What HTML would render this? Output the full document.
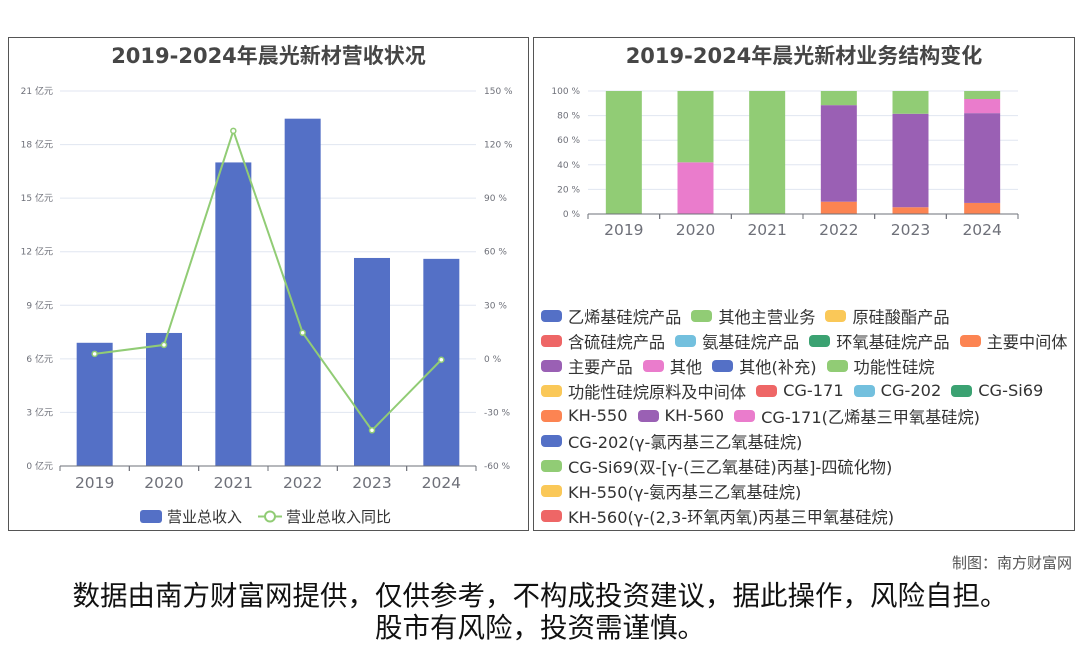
<!DOCTYPE html>
<html><head><meta charset="utf-8">
<style>
body{margin:0;width:1080px;height:646px;background:#fff;font-family:"DejaVu Sans","Noto Sans CJK SC",sans-serif;position:relative;overflow:hidden}
.panel{position:absolute;border:1px solid #555;box-sizing:border-box;background:#fff}
.title{position:absolute;left:0;right:0;top:2px;text-align:center;font-weight:bold;font-size:21px;color:#464646}
svg{position:absolute;left:0;top:0}
.leg{position:absolute;left:7px;top:265px;font-size:16.2px;color:#333}
.row{display:flex;height:25.1px;align-items:center;white-space:nowrap}
.it{display:flex;align-items:center;margin-right:10px}
.ic{width:21px;height:12px;border-radius:4px;margin-right:6px}
</style></head><body>
<div class="panel" style="left:8px;top:37px;width:521px;height:494px">
 <div class="title">2019-2024年晨光新材营收状况</div>
</div>
<div class="panel" style="left:533px;top:37px;width:542px;height:494px">
 <div class="title">2019-2024年晨光新材业务结构变化</div>
 <div class="leg" id="leg"></div>
</div>
<svg id="svg" width="1080" height="646"></svg>
<div style="position:absolute;right:8px;top:552px;font-size:15px;color:#555">制图：南方财富网</div>
<div style="position:absolute;left:0;right:0;top:580px;text-align:center;font-size:27.5px;color:#111;line-height:32px">数据由南方财富网提供，仅供参考，不构成投资建议，据此操作，风险自担。<br>股市有风险，投资需谨慎。</div>
<script>
const years=['2019','2020','2021','2022','2023','2024'];
const revenue=[6.9,7.45,17.0,19.45,11.65,11.6];
const growth=[2.8,7.8,127.7,14.6,-40,-0.5];
const leftTicks=[0,3,6,9,12,15,18,21];
const rightTicks=[-60,-30,0,30,60,90,120,150];
const pctTicks=[0,20,40,60,80,100];
const sOther=[0,58,0,11.5,18.5,6.5];
const sOtherPink=[0,42,0,0,0,0];
const sMid=[0,0,0,10,5.5,9];
const sMain=[0,0,0,78.5,76,73];
const sFunc=[100,0,100,0,0,0];
const sCG171=[0,0,0,0,0,11.5];
const legendRows=[["乙烯基硅烷产品","其他主营业务","原硅酸酯产品"],["含硫硅烷产品","氨基硅烷产品","环氧基硅烷产品","主要中间体"],["主要产品","其他","其他(补充)","功能性硅烷"],["功能性硅烷原料及中间体","CG-171","CG-202","CG-Si69"],["KH-550","KH-560","CG-171(乙烯基三甲氧基硅烷)"],["CG-202(γ-氯丙基三乙氧基硅烷)"],["CG-Si69(双-[γ-(三乙氧基硅)丙基]-四硫化物)"],["KH-550(γ-氨丙基三乙氧基硅烷)"],["KH-560(γ-(2,3-环氧丙氧)丙基三甲氧基硅烷)"]];
const pal=['#5470c6','#91cc75','#fac858','#ee6666','#73c0de','#3ba272','#fc8452','#9a60b4','#ea7ccc'];
const NS='http://www.w3.org/2000/svg',svg=document.getElementById('svg');
function mk(t,a,txt){const e=document.createElementNS(NS,t);for(const k in a)e.setAttribute(k,a[k]);if(txt!==undefined)e.textContent=txt;svg.appendChild(e);return e;}
const L={x0:60,x1:476,y0:466,y1:91};
const yL=v=>L.y0-(v/21)*(L.y0-L.y1);
const yR=v=>L.y0-((v+60)/210)*(L.y0-L.y1);
const bw=(L.x1-L.x0)/years.length;
const xc=i=>L.x0+bw*(i+0.5);
leftTicks.forEach((t,i)=>{
 let g=mk('line',{x1:L.x0,x2:L.x1,y1:yL(t),y2:yL(t),stroke:'#e0e6f1'});
 
 let e=mk('text',{x:L.x0-7,y:yL(t)+3,'text-anchor':'end','font-size':9,fill:'#6e7079'},t+' 亿元');
 
});
rightTicks.forEach(t=>{
 let e=mk('text',{x:L.x1+8,y:yR(t)+3,'font-size':9,fill:'#6e7079'},t+' %');
 
});
revenue.forEach((v,i)=>{
 let r=mk('rect',{x:xc(i)-18,y:yL(v),width:36,height:L.y0-yL(v),fill:'#5470c6'});
 
});
let ax=mk('line',{x1:L.x0,x2:L.x1,y1:L.y0,y2:L.y0,stroke:'#6e7079'});

years.forEach((y,i)=>{
 for(const xx of [L.x0+bw*i,L.x0+bw*(i+1)]){let tk=mk('line',{x1:xx,x2:xx,y1:L.y0,y2:L.y0+5,stroke:'#6e7079'});}
 let e=mk('text',{x:xc(i),y:L.y0+22,'text-anchor':'middle','font-size':15.5,fill:'#6e7079'},y);
 
});
let pl=mk('polyline',{points:growth.map((v,i)=>xc(i)+','+yR(v)).join(' '),fill:'none',stroke:'#91cc75','stroke-width':2});

growth.forEach((v,i)=>{let c=mk('circle',{cx:xc(i),cy:yR(v),r:2.5,fill:'#fff',stroke:'#91cc75','stroke-width':1.5});});
let lr=mk('rect',{x:140,y:510,width:22,height:13,rx:3,fill:'#5470c6'});
let lt=mk('text',{x:167,y:522,'font-size':15,fill:'#333'},'营业总收入');
let ll=mk('line',{x1:258,x2:282,y1:516.5,y2:516.5,stroke:'#91cc75','stroke-width':2});
let lc=mk('circle',{cx:270,cy:516.5,r:5,fill:'#fff',stroke:'#91cc75','stroke-width':2});
let lt2=mk('text',{x:286,y:522,'font-size':15,fill:'#333'},'营业总收入同比');
const R={x0:588,x1:1018,y0:214,y1:91};
const yP=v=>R.y0-(v/100)*(R.y0-R.y1);
const rw=(R.x1-R.x0)/years.length;
const xr=i=>R.x0+rw*(i+0.5);
pctTicks.forEach(t=>{
 let g=mk('line',{x1:R.x0,x2:R.x1,y1:yP(t),y2:yP(t),stroke:'#e0e6f1'});
 let e=mk('text',{x:R.x0-8,y:yP(t)+3,'text-anchor':'end','font-size':9,fill:'#6e7079'},t+' %');
});
const stacks=[[sMid,pal[6],'main-intermediate'],[sMain,pal[7],'main-product'],[sOtherPink,pal[8],'other'],[sCG171,pal[8],'cg-171'],[sFunc,pal[1],'functional-silane'],[sOther,pal[1],'other-main-business']];
years.forEach((y,i)=>{
 let acc=0;
 stacks.forEach(([arr,col,nm])=>{const v=arr[i];if(!v)return;
  let r=mk('rect',{x:xr(i)-18,y:yP(acc+v),width:36,height:yP(acc)-yP(acc+v),fill:col});
  acc+=v;});
 for(const xx of [R.x0+rw*i,R.x0+rw*(i+1)]){let tk=mk('line',{x1:xx,x2:xx,y1:R.y0,y2:R.y0+5,stroke:'#6e7079'});}
 let e=mk('text',{x:xr(i),y:R.y0+21,'text-anchor':'middle','font-size':15.5,fill:'#6e7079'},y);
});
let ax2=mk('line',{x1:R.x0,x2:R.x1,y1:R.y0,y2:R.y0,stroke:'#6e7079'});
const leg=document.getElementById('leg');let k=0;
legendRows.forEach(row=>{const d=document.createElement('div');d.className='row';
 row.forEach(n=>{const it=document.createElement('div');it.className='it';
  
  
  it.innerHTML='<span class="ic" style="background:'+pal[k%9]+'"></span>'+n;k++;d.appendChild(it);});
 leg.appendChild(d);});
</script>
</body></html>
